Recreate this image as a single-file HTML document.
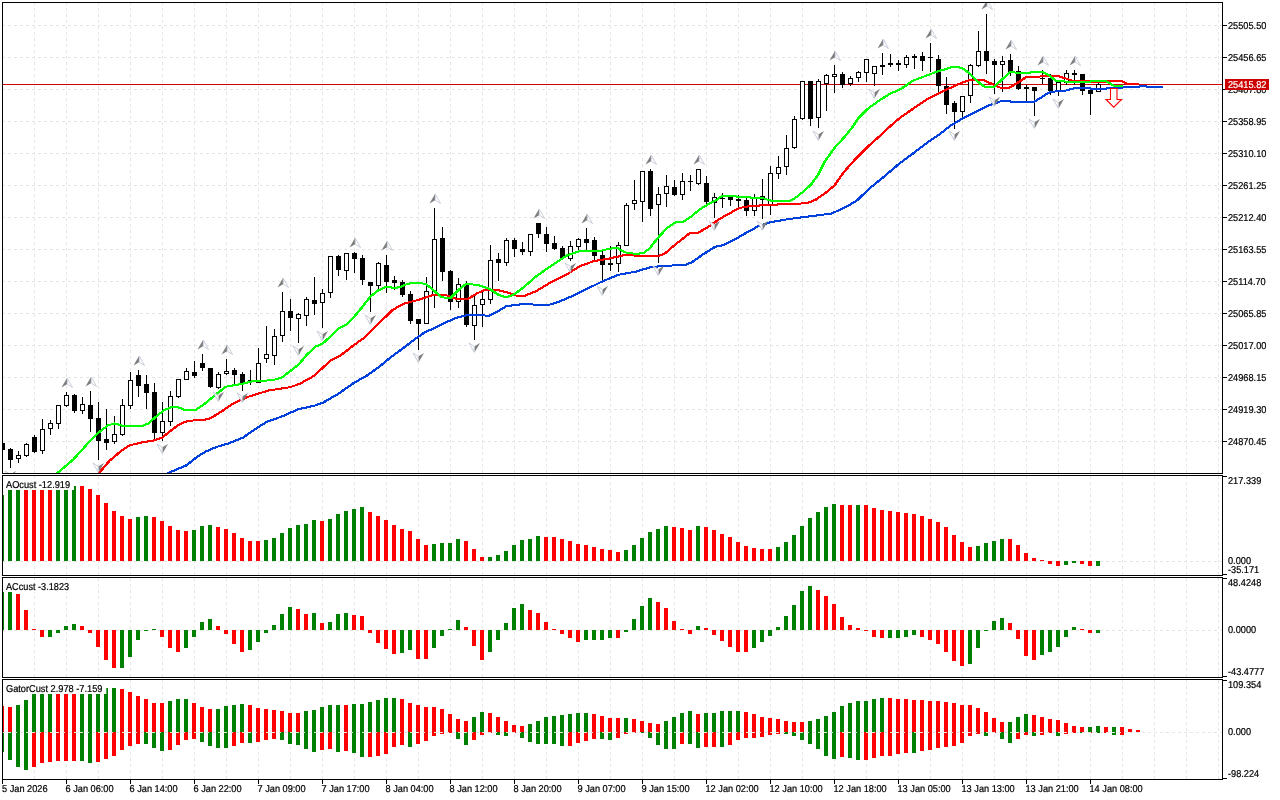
<!DOCTYPE html><html><head><meta charset="utf-8"><title>Chart</title><style>html,body{margin:0;padding:0;background:#fff;overflow:hidden}svg{display:block}text{font-family:"Liberation Sans", Arial, sans-serif;font-size:10px;fill:#000;stroke:#000;stroke-width:.22px;text-rendering:geometricPrecision}</style></head><body>
<svg width="1280" height="800" viewBox="0 0 1280 800">
<rect x="0" y="0" width="1280" height="800" fill="#fff"/>
<defs><clipPath id="cm"><rect x="3" y="3" width="1219" height="470"/></clipPath>
<clipPath id="c1"><rect x="3" y="476" width="1219" height="99"/></clipPath>
<clipPath id="c2"><rect x="3" y="578" width="1219" height="99"/></clipPath>
<clipPath id="c3"><rect x="3" y="680" width="1219" height="99"/></clipPath>
<g id="fu"><polygon points="0,0 -5.5,9.5 0,6.2" fill="#7d7d7d"/><polygon points="0.3,0.2 5.5,9.5 0.3,6.2" fill="#fff" stroke="#c3c9d6" stroke-width="0.9"/></g>
<g id="fd"><polygon points="0,0 5.5,-9.5 0,-6.2" fill="#7d7d7d"/><polygon points="-0.3,-0.2 -5.5,-9.5 -0.3,-6.2" fill="#fff" stroke="#c3c9d6" stroke-width="0.9"/></g>
</defs>
<g shape-rendering="crispEdges" stroke="#e5e5e5" stroke-width="1" stroke-dasharray="3 3" fill="none">
<line x1="34.5" y1="2" x2="34.5" y2="473"/>
<line x1="66.5" y1="2" x2="66.5" y2="473"/>
<line x1="98.5" y1="2" x2="98.5" y2="473"/>
<line x1="130.5" y1="2" x2="130.5" y2="473"/>
<line x1="162.5" y1="2" x2="162.5" y2="473"/>
<line x1="194.5" y1="2" x2="194.5" y2="473"/>
<line x1="226.5" y1="2" x2="226.5" y2="473"/>
<line x1="258.5" y1="2" x2="258.5" y2="473"/>
<line x1="290.5" y1="2" x2="290.5" y2="473"/>
<line x1="322.5" y1="2" x2="322.5" y2="473"/>
<line x1="354.5" y1="2" x2="354.5" y2="473"/>
<line x1="386.5" y1="2" x2="386.5" y2="473"/>
<line x1="418.5" y1="2" x2="418.5" y2="473"/>
<line x1="450.5" y1="2" x2="450.5" y2="473"/>
<line x1="482.5" y1="2" x2="482.5" y2="473"/>
<line x1="514.5" y1="2" x2="514.5" y2="473"/>
<line x1="546.5" y1="2" x2="546.5" y2="473"/>
<line x1="578.5" y1="2" x2="578.5" y2="473"/>
<line x1="610.5" y1="2" x2="610.5" y2="473"/>
<line x1="642.5" y1="2" x2="642.5" y2="473"/>
<line x1="674.5" y1="2" x2="674.5" y2="473"/>
<line x1="706.5" y1="2" x2="706.5" y2="473"/>
<line x1="738.5" y1="2" x2="738.5" y2="473"/>
<line x1="770.5" y1="2" x2="770.5" y2="473"/>
<line x1="802.5" y1="2" x2="802.5" y2="473"/>
<line x1="834.5" y1="2" x2="834.5" y2="473"/>
<line x1="866.5" y1="2" x2="866.5" y2="473"/>
<line x1="898.5" y1="2" x2="898.5" y2="473"/>
<line x1="930.5" y1="2" x2="930.5" y2="473"/>
<line x1="962.5" y1="2" x2="962.5" y2="473"/>
<line x1="994.5" y1="2" x2="994.5" y2="473"/>
<line x1="1026.5" y1="2" x2="1026.5" y2="473"/>
<line x1="1058.5" y1="2" x2="1058.5" y2="473"/>
<line x1="1090.5" y1="2" x2="1090.5" y2="473"/>
<line x1="1122.5" y1="2" x2="1122.5" y2="473"/>
<line x1="1154.5" y1="2" x2="1154.5" y2="473"/>
<line x1="1186.5" y1="2" x2="1186.5" y2="473"/>
<line x1="1218.5" y1="2" x2="1218.5" y2="473"/>
<line x1="34.5" y1="476" x2="34.5" y2="575"/>
<line x1="66.5" y1="476" x2="66.5" y2="575"/>
<line x1="98.5" y1="476" x2="98.5" y2="575"/>
<line x1="130.5" y1="476" x2="130.5" y2="575"/>
<line x1="162.5" y1="476" x2="162.5" y2="575"/>
<line x1="194.5" y1="476" x2="194.5" y2="575"/>
<line x1="226.5" y1="476" x2="226.5" y2="575"/>
<line x1="258.5" y1="476" x2="258.5" y2="575"/>
<line x1="290.5" y1="476" x2="290.5" y2="575"/>
<line x1="322.5" y1="476" x2="322.5" y2="575"/>
<line x1="354.5" y1="476" x2="354.5" y2="575"/>
<line x1="386.5" y1="476" x2="386.5" y2="575"/>
<line x1="418.5" y1="476" x2="418.5" y2="575"/>
<line x1="450.5" y1="476" x2="450.5" y2="575"/>
<line x1="482.5" y1="476" x2="482.5" y2="575"/>
<line x1="514.5" y1="476" x2="514.5" y2="575"/>
<line x1="546.5" y1="476" x2="546.5" y2="575"/>
<line x1="578.5" y1="476" x2="578.5" y2="575"/>
<line x1="610.5" y1="476" x2="610.5" y2="575"/>
<line x1="642.5" y1="476" x2="642.5" y2="575"/>
<line x1="674.5" y1="476" x2="674.5" y2="575"/>
<line x1="706.5" y1="476" x2="706.5" y2="575"/>
<line x1="738.5" y1="476" x2="738.5" y2="575"/>
<line x1="770.5" y1="476" x2="770.5" y2="575"/>
<line x1="802.5" y1="476" x2="802.5" y2="575"/>
<line x1="834.5" y1="476" x2="834.5" y2="575"/>
<line x1="866.5" y1="476" x2="866.5" y2="575"/>
<line x1="898.5" y1="476" x2="898.5" y2="575"/>
<line x1="930.5" y1="476" x2="930.5" y2="575"/>
<line x1="962.5" y1="476" x2="962.5" y2="575"/>
<line x1="994.5" y1="476" x2="994.5" y2="575"/>
<line x1="1026.5" y1="476" x2="1026.5" y2="575"/>
<line x1="1058.5" y1="476" x2="1058.5" y2="575"/>
<line x1="1090.5" y1="476" x2="1090.5" y2="575"/>
<line x1="1122.5" y1="476" x2="1122.5" y2="575"/>
<line x1="1154.5" y1="476" x2="1154.5" y2="575"/>
<line x1="1186.5" y1="476" x2="1186.5" y2="575"/>
<line x1="1218.5" y1="476" x2="1218.5" y2="575"/>
<line x1="34.5" y1="578" x2="34.5" y2="677"/>
<line x1="66.5" y1="578" x2="66.5" y2="677"/>
<line x1="98.5" y1="578" x2="98.5" y2="677"/>
<line x1="130.5" y1="578" x2="130.5" y2="677"/>
<line x1="162.5" y1="578" x2="162.5" y2="677"/>
<line x1="194.5" y1="578" x2="194.5" y2="677"/>
<line x1="226.5" y1="578" x2="226.5" y2="677"/>
<line x1="258.5" y1="578" x2="258.5" y2="677"/>
<line x1="290.5" y1="578" x2="290.5" y2="677"/>
<line x1="322.5" y1="578" x2="322.5" y2="677"/>
<line x1="354.5" y1="578" x2="354.5" y2="677"/>
<line x1="386.5" y1="578" x2="386.5" y2="677"/>
<line x1="418.5" y1="578" x2="418.5" y2="677"/>
<line x1="450.5" y1="578" x2="450.5" y2="677"/>
<line x1="482.5" y1="578" x2="482.5" y2="677"/>
<line x1="514.5" y1="578" x2="514.5" y2="677"/>
<line x1="546.5" y1="578" x2="546.5" y2="677"/>
<line x1="578.5" y1="578" x2="578.5" y2="677"/>
<line x1="610.5" y1="578" x2="610.5" y2="677"/>
<line x1="642.5" y1="578" x2="642.5" y2="677"/>
<line x1="674.5" y1="578" x2="674.5" y2="677"/>
<line x1="706.5" y1="578" x2="706.5" y2="677"/>
<line x1="738.5" y1="578" x2="738.5" y2="677"/>
<line x1="770.5" y1="578" x2="770.5" y2="677"/>
<line x1="802.5" y1="578" x2="802.5" y2="677"/>
<line x1="834.5" y1="578" x2="834.5" y2="677"/>
<line x1="866.5" y1="578" x2="866.5" y2="677"/>
<line x1="898.5" y1="578" x2="898.5" y2="677"/>
<line x1="930.5" y1="578" x2="930.5" y2="677"/>
<line x1="962.5" y1="578" x2="962.5" y2="677"/>
<line x1="994.5" y1="578" x2="994.5" y2="677"/>
<line x1="1026.5" y1="578" x2="1026.5" y2="677"/>
<line x1="1058.5" y1="578" x2="1058.5" y2="677"/>
<line x1="1090.5" y1="578" x2="1090.5" y2="677"/>
<line x1="1122.5" y1="578" x2="1122.5" y2="677"/>
<line x1="1154.5" y1="578" x2="1154.5" y2="677"/>
<line x1="1186.5" y1="578" x2="1186.5" y2="677"/>
<line x1="1218.5" y1="578" x2="1218.5" y2="677"/>
<line x1="34.5" y1="680" x2="34.5" y2="779"/>
<line x1="66.5" y1="680" x2="66.5" y2="779"/>
<line x1="98.5" y1="680" x2="98.5" y2="779"/>
<line x1="130.5" y1="680" x2="130.5" y2="779"/>
<line x1="162.5" y1="680" x2="162.5" y2="779"/>
<line x1="194.5" y1="680" x2="194.5" y2="779"/>
<line x1="226.5" y1="680" x2="226.5" y2="779"/>
<line x1="258.5" y1="680" x2="258.5" y2="779"/>
<line x1="290.5" y1="680" x2="290.5" y2="779"/>
<line x1="322.5" y1="680" x2="322.5" y2="779"/>
<line x1="354.5" y1="680" x2="354.5" y2="779"/>
<line x1="386.5" y1="680" x2="386.5" y2="779"/>
<line x1="418.5" y1="680" x2="418.5" y2="779"/>
<line x1="450.5" y1="680" x2="450.5" y2="779"/>
<line x1="482.5" y1="680" x2="482.5" y2="779"/>
<line x1="514.5" y1="680" x2="514.5" y2="779"/>
<line x1="546.5" y1="680" x2="546.5" y2="779"/>
<line x1="578.5" y1="680" x2="578.5" y2="779"/>
<line x1="610.5" y1="680" x2="610.5" y2="779"/>
<line x1="642.5" y1="680" x2="642.5" y2="779"/>
<line x1="674.5" y1="680" x2="674.5" y2="779"/>
<line x1="706.5" y1="680" x2="706.5" y2="779"/>
<line x1="738.5" y1="680" x2="738.5" y2="779"/>
<line x1="770.5" y1="680" x2="770.5" y2="779"/>
<line x1="802.5" y1="680" x2="802.5" y2="779"/>
<line x1="834.5" y1="680" x2="834.5" y2="779"/>
<line x1="866.5" y1="680" x2="866.5" y2="779"/>
<line x1="898.5" y1="680" x2="898.5" y2="779"/>
<line x1="930.5" y1="680" x2="930.5" y2="779"/>
<line x1="962.5" y1="680" x2="962.5" y2="779"/>
<line x1="994.5" y1="680" x2="994.5" y2="779"/>
<line x1="1026.5" y1="680" x2="1026.5" y2="779"/>
<line x1="1058.5" y1="680" x2="1058.5" y2="779"/>
<line x1="1090.5" y1="680" x2="1090.5" y2="779"/>
<line x1="1122.5" y1="680" x2="1122.5" y2="779"/>
<line x1="1154.5" y1="680" x2="1154.5" y2="779"/>
<line x1="1186.5" y1="680" x2="1186.5" y2="779"/>
<line x1="1218.5" y1="680" x2="1218.5" y2="779"/>
<line x1="2" y1="25.5" x2="1222" y2="25.5"/>
<line x1="2" y1="57.5" x2="1222" y2="57.5"/>
<line x1="2" y1="89.5" x2="1222" y2="89.5"/>
<line x1="2" y1="121.5" x2="1222" y2="121.5"/>
<line x1="2" y1="153.5" x2="1222" y2="153.5"/>
<line x1="2" y1="185.5" x2="1222" y2="185.5"/>
<line x1="2" y1="217.5" x2="1222" y2="217.5"/>
<line x1="2" y1="249.5" x2="1222" y2="249.5"/>
<line x1="2" y1="281.5" x2="1222" y2="281.5"/>
<line x1="2" y1="313.5" x2="1222" y2="313.5"/>
<line x1="2" y1="345.5" x2="1222" y2="345.5"/>
<line x1="2" y1="377.5" x2="1222" y2="377.5"/>
<line x1="2" y1="409.5" x2="1222" y2="409.5"/>
<line x1="2" y1="441.5" x2="1222" y2="441.5"/>
<line x1="2" y1="561.5" x2="1226" y2="561.5"/>
<line x1="2" y1="630.5" x2="1226" y2="630.5"/>
</g>
<rect x="3" y="84" width="1219" height="1" fill="#cc0000" shape-rendering="crispEdges"/>
<g shape-rendering="crispEdges" clip-path="url(#cm)">
<rect x="2" y="441" width="1" height="11" fill="#000"/>
<rect x="0" y="443" width="5" height="7" fill="#000"/>
<rect x="10" y="448" width="1" height="20" fill="#000"/>
<rect x="8" y="449" width="5" height="11" fill="#000"/>
<rect x="18" y="451" width="1" height="12" fill="#000"/>
<rect x="16.5" y="455.5" width="4" height="3" fill="#fff" stroke="#000" stroke-width="1"/>
<rect x="26" y="443" width="1" height="14" fill="#000"/>
<rect x="24.5" y="444.5" width="4" height="11" fill="#fff" stroke="#000" stroke-width="1"/>
<rect x="34" y="435" width="1" height="18" fill="#000"/>
<rect x="32" y="437" width="5" height="15" fill="#000"/>
<rect x="42" y="419" width="1" height="35" fill="#000"/>
<rect x="40.5" y="429.5" width="4" height="21" fill="#fff" stroke="#000" stroke-width="1"/>
<rect x="50" y="420" width="1" height="15" fill="#000"/>
<rect x="48.5" y="423.5" width="4" height="5" fill="#fff" stroke="#000" stroke-width="1"/>
<rect x="58" y="405" width="1" height="24" fill="#000"/>
<rect x="56.5" y="405.5" width="4" height="18" fill="#fff" stroke="#000" stroke-width="1"/>
<rect x="66" y="392" width="1" height="15" fill="#000"/>
<rect x="64.5" y="395.5" width="4" height="10" fill="#fff" stroke="#000" stroke-width="1"/>
<rect x="74" y="394" width="1" height="19" fill="#000"/>
<rect x="72" y="395" width="5" height="16" fill="#000"/>
<rect x="82" y="397" width="1" height="17" fill="#000"/>
<rect x="80.5" y="404.5" width="4" height="6" fill="#fff" stroke="#000" stroke-width="1"/>
<rect x="90" y="391" width="1" height="41" fill="#000"/>
<rect x="88" y="405" width="5" height="14" fill="#000"/>
<rect x="98" y="402" width="1" height="58" fill="#000"/>
<rect x="96" y="418" width="5" height="23" fill="#000"/>
<rect x="106" y="409" width="1" height="41" fill="#000"/>
<rect x="104" y="439" width="5" height="4" fill="#000"/>
<rect x="114" y="416" width="1" height="28" fill="#000"/>
<rect x="112.5" y="434.5" width="4" height="7" fill="#fff" stroke="#000" stroke-width="1"/>
<rect x="122" y="399" width="1" height="37" fill="#000"/>
<rect x="120.5" y="405.5" width="4" height="29" fill="#fff" stroke="#000" stroke-width="1"/>
<rect x="130" y="372" width="1" height="37" fill="#000"/>
<rect x="128.5" y="380.5" width="4" height="25" fill="#fff" stroke="#000" stroke-width="1"/>
<rect x="138" y="370" width="1" height="27" fill="#000"/>
<rect x="136" y="375" width="5" height="11" fill="#000"/>
<rect x="146" y="375" width="1" height="34" fill="#000"/>
<rect x="144" y="384" width="5" height="9" fill="#000"/>
<rect x="154" y="383" width="1" height="57" fill="#000"/>
<rect x="152" y="392" width="5" height="41" fill="#000"/>
<rect x="162" y="402" width="1" height="39" fill="#000"/>
<rect x="160.5" y="421.5" width="4" height="11" fill="#fff" stroke="#000" stroke-width="1"/>
<rect x="170" y="391" width="1" height="35" fill="#000"/>
<rect x="168.5" y="396.5" width="4" height="25" fill="#fff" stroke="#000" stroke-width="1"/>
<rect x="178" y="379" width="1" height="19" fill="#000"/>
<rect x="176.5" y="379.5" width="4" height="17" fill="#fff" stroke="#000" stroke-width="1"/>
<rect x="186" y="368" width="1" height="12" fill="#000"/>
<rect x="184.5" y="371.5" width="4" height="8" fill="#fff" stroke="#000" stroke-width="1"/>
<rect x="194" y="361" width="1" height="17" fill="#000"/>
<rect x="192" y="372" width="5" height="4" fill="#000"/>
<rect x="202" y="354" width="1" height="17" fill="#000"/>
<rect x="200" y="363" width="5" height="5" fill="#000"/>
<rect x="210" y="368" width="1" height="20" fill="#000"/>
<rect x="208" y="368" width="5" height="19" fill="#000"/>
<rect x="218" y="372" width="1" height="17" fill="#000"/>
<rect x="216.5" y="374.5" width="4" height="13" fill="#fff" stroke="#000" stroke-width="1"/>
<rect x="226" y="359" width="1" height="16" fill="#000"/>
<rect x="224.5" y="371.5" width="4" height="2" fill="#fff" stroke="#000" stroke-width="1"/>
<rect x="234" y="368" width="1" height="16" fill="#000"/>
<rect x="232" y="370" width="5" height="5" fill="#000"/>
<rect x="242" y="372" width="1" height="19" fill="#000"/>
<rect x="240" y="374" width="5" height="10" fill="#000"/>
<rect x="250" y="370" width="1" height="15" fill="#000"/>
<rect x="248" y="380" width="5" height="2" fill="#000"/>
<rect x="258" y="348" width="1" height="35" fill="#000"/>
<rect x="256.5" y="363.5" width="4" height="19" fill="#fff" stroke="#000" stroke-width="1"/>
<rect x="266" y="326" width="1" height="37" fill="#000"/>
<rect x="264.5" y="354.5" width="4" height="4" fill="#fff" stroke="#000" stroke-width="1"/>
<rect x="274" y="329" width="1" height="36" fill="#000"/>
<rect x="272.5" y="336.5" width="4" height="19" fill="#fff" stroke="#000" stroke-width="1"/>
<rect x="282" y="292" width="1" height="50" fill="#000"/>
<rect x="280.5" y="311.5" width="4" height="24" fill="#fff" stroke="#000" stroke-width="1"/>
<rect x="290" y="299" width="1" height="32" fill="#000"/>
<rect x="288" y="311" width="5" height="7" fill="#000"/>
<rect x="298" y="313" width="1" height="30" fill="#000"/>
<rect x="296.5" y="314.5" width="4" height="4" fill="#fff" stroke="#000" stroke-width="1"/>
<rect x="306" y="297" width="1" height="29" fill="#000"/>
<rect x="304.5" y="299.5" width="4" height="16" fill="#fff" stroke="#000" stroke-width="1"/>
<rect x="314" y="277" width="1" height="38" fill="#000"/>
<rect x="312" y="300" width="5" height="4" fill="#000"/>
<rect x="322" y="289" width="1" height="39" fill="#000"/>
<rect x="320.5" y="293.5" width="4" height="9" fill="#fff" stroke="#000" stroke-width="1"/>
<rect x="330" y="256" width="1" height="42" fill="#000"/>
<rect x="328.5" y="256.5" width="4" height="36" fill="#fff" stroke="#000" stroke-width="1"/>
<rect x="338" y="255" width="1" height="21" fill="#000"/>
<rect x="336" y="256" width="5" height="14" fill="#000"/>
<rect x="346" y="253" width="1" height="27" fill="#000"/>
<rect x="344.5" y="253.5" width="4" height="17" fill="#fff" stroke="#000" stroke-width="1"/>
<rect x="354" y="252" width="1" height="21" fill="#000"/>
<rect x="352" y="253" width="5" height="6" fill="#000"/>
<rect x="362" y="255" width="1" height="30" fill="#000"/>
<rect x="360" y="258" width="5" height="22" fill="#000"/>
<rect x="370" y="282" width="1" height="30" fill="#000"/>
<rect x="368" y="282" width="5" height="4" fill="#000"/>
<rect x="378" y="262" width="1" height="27" fill="#000"/>
<rect x="376.5" y="263.5" width="4" height="22" fill="#fff" stroke="#000" stroke-width="1"/>
<rect x="386" y="255" width="1" height="38" fill="#000"/>
<rect x="384" y="265" width="5" height="17" fill="#000"/>
<rect x="394" y="276" width="1" height="14" fill="#000"/>
<rect x="392" y="280" width="5" height="3" fill="#000"/>
<rect x="402" y="280" width="1" height="17" fill="#000"/>
<rect x="400" y="282" width="5" height="13" fill="#000"/>
<rect x="410" y="291" width="1" height="33" fill="#000"/>
<rect x="408" y="294" width="5" height="27" fill="#000"/>
<rect x="418" y="319" width="1" height="31" fill="#000"/>
<rect x="416" y="319" width="5" height="5" fill="#000"/>
<rect x="426" y="277" width="1" height="47" fill="#000"/>
<rect x="424.5" y="291.5" width="4" height="32" fill="#fff" stroke="#000" stroke-width="1"/>
<rect x="434" y="208" width="1" height="100" fill="#000"/>
<rect x="432.5" y="239.5" width="4" height="55" fill="#fff" stroke="#000" stroke-width="1"/>
<rect x="442" y="227" width="1" height="54" fill="#000"/>
<rect x="440" y="238" width="5" height="34" fill="#000"/>
<rect x="450" y="270" width="1" height="40" fill="#000"/>
<rect x="448" y="271" width="5" height="31" fill="#000"/>
<rect x="458" y="278" width="1" height="30" fill="#000"/>
<rect x="456.5" y="284.5" width="4" height="17" fill="#fff" stroke="#000" stroke-width="1"/>
<rect x="466" y="281" width="1" height="46" fill="#000"/>
<rect x="464" y="284" width="5" height="41" fill="#000"/>
<rect x="474" y="296" width="1" height="44" fill="#000"/>
<rect x="472.5" y="305.5" width="4" height="20" fill="#fff" stroke="#000" stroke-width="1"/>
<rect x="482" y="290" width="1" height="37" fill="#000"/>
<rect x="480.5" y="299.5" width="4" height="5" fill="#fff" stroke="#000" stroke-width="1"/>
<rect x="490" y="245" width="1" height="59" fill="#000"/>
<rect x="488.5" y="260.5" width="4" height="39" fill="#fff" stroke="#000" stroke-width="1"/>
<rect x="498" y="253" width="1" height="28" fill="#000"/>
<rect x="496" y="259" width="5" height="4" fill="#000"/>
<rect x="506" y="238" width="1" height="28" fill="#000"/>
<rect x="504.5" y="240.5" width="4" height="22" fill="#fff" stroke="#000" stroke-width="1"/>
<rect x="514" y="238" width="1" height="19" fill="#000"/>
<rect x="512" y="240" width="5" height="9" fill="#000"/>
<rect x="522" y="242" width="1" height="13" fill="#000"/>
<rect x="520" y="249" width="5" height="3" fill="#000"/>
<rect x="530" y="234" width="1" height="22" fill="#000"/>
<rect x="528.5" y="234.5" width="4" height="17" fill="#fff" stroke="#000" stroke-width="1"/>
<rect x="538" y="223" width="1" height="15" fill="#000"/>
<rect x="536" y="223" width="5" height="11" fill="#000"/>
<rect x="546" y="227" width="1" height="25" fill="#000"/>
<rect x="544" y="234" width="5" height="10" fill="#000"/>
<rect x="554" y="236" width="1" height="14" fill="#000"/>
<rect x="552" y="243" width="5" height="6" fill="#000"/>
<rect x="562" y="246" width="1" height="13" fill="#000"/>
<rect x="560" y="248" width="5" height="10" fill="#000"/>
<rect x="570" y="241" width="1" height="20" fill="#000"/>
<rect x="568.5" y="246.5" width="4" height="12" fill="#fff" stroke="#000" stroke-width="1"/>
<rect x="578" y="238" width="1" height="13" fill="#000"/>
<rect x="576.5" y="239.5" width="4" height="7" fill="#fff" stroke="#000" stroke-width="1"/>
<rect x="586" y="228" width="1" height="22" fill="#000"/>
<rect x="584" y="239" width="5" height="4" fill="#000"/>
<rect x="594" y="237" width="1" height="23" fill="#000"/>
<rect x="592" y="240" width="5" height="16" fill="#000"/>
<rect x="602" y="251" width="1" height="32" fill="#000"/>
<rect x="600" y="255" width="5" height="10" fill="#000"/>
<rect x="610" y="246" width="1" height="25" fill="#000"/>
<rect x="608" y="263" width="5" height="2" fill="#000"/>
<rect x="618" y="242" width="1" height="30" fill="#000"/>
<rect x="616.5" y="245.5" width="4" height="18" fill="#fff" stroke="#000" stroke-width="1"/>
<rect x="626" y="203" width="1" height="43" fill="#000"/>
<rect x="624.5" y="205.5" width="4" height="40" fill="#fff" stroke="#000" stroke-width="1"/>
<rect x="634" y="180" width="1" height="30" fill="#000"/>
<rect x="632.5" y="200.5" width="4" height="3" fill="#fff" stroke="#000" stroke-width="1"/>
<rect x="642" y="171" width="1" height="51" fill="#000"/>
<rect x="640.5" y="171.5" width="4" height="30" fill="#fff" stroke="#000" stroke-width="1"/>
<rect x="650" y="169" width="1" height="47" fill="#000"/>
<rect x="648" y="171" width="5" height="38" fill="#000"/>
<rect x="658" y="187" width="1" height="76" fill="#000"/>
<rect x="656.5" y="194.5" width="4" height="10" fill="#fff" stroke="#000" stroke-width="1"/>
<rect x="666" y="175" width="1" height="32" fill="#000"/>
<rect x="664.5" y="186.5" width="4" height="7" fill="#fff" stroke="#000" stroke-width="1"/>
<rect x="674" y="180" width="1" height="16" fill="#000"/>
<rect x="672" y="187" width="5" height="8" fill="#000"/>
<rect x="682" y="173" width="1" height="27" fill="#000"/>
<rect x="680.5" y="181.5" width="4" height="13" fill="#fff" stroke="#000" stroke-width="1"/>
<rect x="690" y="175" width="1" height="16" fill="#000"/>
<rect x="688" y="181" width="5" height="1" fill="#000"/>
<rect x="698" y="169" width="1" height="16" fill="#000"/>
<rect x="696.5" y="169.5" width="4" height="14" fill="#fff" stroke="#000" stroke-width="1"/>
<rect x="706" y="176" width="1" height="28" fill="#000"/>
<rect x="704" y="183" width="5" height="19" fill="#000"/>
<rect x="714" y="193" width="1" height="25" fill="#000"/>
<rect x="712.5" y="197.5" width="4" height="5" fill="#fff" stroke="#000" stroke-width="1"/>
<rect x="722" y="193" width="1" height="15" fill="#000"/>
<rect x="720" y="198" width="5" height="1" fill="#000"/>
<rect x="730" y="195" width="1" height="11" fill="#000"/>
<rect x="728" y="197" width="5" height="3" fill="#000"/>
<rect x="738" y="195" width="1" height="13" fill="#000"/>
<rect x="736" y="199" width="5" height="2" fill="#000"/>
<rect x="746" y="198" width="1" height="18" fill="#000"/>
<rect x="744" y="200" width="5" height="11" fill="#000"/>
<rect x="754" y="194" width="1" height="22" fill="#000"/>
<rect x="752.5" y="198.5" width="4" height="12" fill="#fff" stroke="#000" stroke-width="1"/>
<rect x="762" y="179" width="1" height="40" fill="#000"/>
<rect x="760" y="196" width="5" height="4" fill="#000"/>
<rect x="770" y="166" width="1" height="49" fill="#000"/>
<rect x="768.5" y="173.5" width="4" height="31" fill="#fff" stroke="#000" stroke-width="1"/>
<rect x="778" y="156" width="1" height="23" fill="#000"/>
<rect x="776.5" y="167.5" width="4" height="6" fill="#fff" stroke="#000" stroke-width="1"/>
<rect x="786" y="135" width="1" height="40" fill="#000"/>
<rect x="784.5" y="148.5" width="4" height="18" fill="#fff" stroke="#000" stroke-width="1"/>
<rect x="794" y="116" width="1" height="33" fill="#000"/>
<rect x="792.5" y="119.5" width="4" height="28" fill="#fff" stroke="#000" stroke-width="1"/>
<rect x="802" y="81" width="1" height="39" fill="#000"/>
<rect x="800.5" y="81.5" width="4" height="37" fill="#fff" stroke="#000" stroke-width="1"/>
<rect x="810" y="81" width="1" height="45" fill="#000"/>
<rect x="808" y="81" width="5" height="38" fill="#000"/>
<rect x="818" y="79" width="1" height="49" fill="#000"/>
<rect x="816.5" y="81.5" width="4" height="36" fill="#fff" stroke="#000" stroke-width="1"/>
<rect x="826" y="74" width="1" height="37" fill="#000"/>
<rect x="824.5" y="75.5" width="4" height="8" fill="#fff" stroke="#000" stroke-width="1"/>
<rect x="834" y="65" width="1" height="28" fill="#000"/>
<rect x="832.5" y="74.5" width="4" height="2" fill="#fff" stroke="#000" stroke-width="1"/>
<rect x="842" y="72" width="1" height="16" fill="#000"/>
<rect x="840" y="74" width="5" height="11" fill="#000"/>
<rect x="850" y="76" width="1" height="10" fill="#000"/>
<rect x="848.5" y="78.5" width="4" height="5" fill="#fff" stroke="#000" stroke-width="1"/>
<rect x="858" y="71" width="1" height="11" fill="#000"/>
<rect x="856.5" y="72.5" width="4" height="5" fill="#fff" stroke="#000" stroke-width="1"/>
<rect x="866" y="59" width="1" height="23" fill="#000"/>
<rect x="864.5" y="59.5" width="4" height="13" fill="#fff" stroke="#000" stroke-width="1"/>
<rect x="874" y="66" width="1" height="20" fill="#000"/>
<rect x="872.5" y="66.5" width="4" height="7" fill="#fff" stroke="#000" stroke-width="1"/>
<rect x="882" y="53" width="1" height="22" fill="#000"/>
<rect x="880" y="65" width="5" height="2" fill="#000"/>
<rect x="890" y="54" width="1" height="13" fill="#000"/>
<rect x="888" y="63" width="5" height="2" fill="#000"/>
<rect x="898" y="60" width="1" height="11" fill="#000"/>
<rect x="896" y="63" width="5" height="2" fill="#000"/>
<rect x="906" y="55" width="1" height="13" fill="#000"/>
<rect x="904.5" y="57.5" width="4" height="7" fill="#fff" stroke="#000" stroke-width="1"/>
<rect x="914" y="54" width="1" height="15" fill="#000"/>
<rect x="912" y="56" width="5" height="2" fill="#000"/>
<rect x="922" y="52" width="1" height="19" fill="#000"/>
<rect x="920" y="56" width="5" height="5" fill="#000"/>
<rect x="930" y="43" width="1" height="29" fill="#000"/>
<rect x="928" y="57" width="5" height="1" fill="#000"/>
<rect x="938" y="55" width="1" height="38" fill="#000"/>
<rect x="936" y="59" width="5" height="27" fill="#000"/>
<rect x="946" y="77" width="1" height="37" fill="#000"/>
<rect x="944" y="86" width="5" height="19" fill="#000"/>
<rect x="954" y="101" width="1" height="28" fill="#000"/>
<rect x="952" y="103" width="5" height="9" fill="#000"/>
<rect x="962" y="96" width="1" height="21" fill="#000"/>
<rect x="960.5" y="96.5" width="4" height="15" fill="#fff" stroke="#000" stroke-width="1"/>
<rect x="970" y="64" width="1" height="39" fill="#000"/>
<rect x="968.5" y="65.5" width="4" height="30" fill="#fff" stroke="#000" stroke-width="1"/>
<rect x="978" y="31" width="1" height="36" fill="#000"/>
<rect x="976.5" y="51.5" width="4" height="14" fill="#fff" stroke="#000" stroke-width="1"/>
<rect x="986" y="14" width="1" height="60" fill="#000"/>
<rect x="984" y="51" width="5" height="10" fill="#000"/>
<rect x="994" y="59" width="1" height="35" fill="#000"/>
<rect x="992" y="61" width="5" height="4" fill="#000"/>
<rect x="1002" y="56" width="1" height="36" fill="#000"/>
<rect x="1000.5" y="61.5" width="4" height="3" fill="#fff" stroke="#000" stroke-width="1"/>
<rect x="1010" y="54" width="1" height="22" fill="#000"/>
<rect x="1008" y="60" width="5" height="12" fill="#000"/>
<rect x="1018" y="66" width="1" height="24" fill="#000"/>
<rect x="1016" y="71" width="5" height="18" fill="#000"/>
<rect x="1026" y="85" width="1" height="16" fill="#000"/>
<rect x="1024" y="87" width="5" height="2" fill="#000"/>
<rect x="1034" y="87" width="1" height="29" fill="#000"/>
<rect x="1032" y="87" width="5" height="4" fill="#000"/>
<rect x="1042" y="70" width="1" height="14" fill="#000"/>
<rect x="1040" y="78" width="5" height="1" fill="#000"/>
<rect x="1050" y="74" width="1" height="21" fill="#000"/>
<rect x="1048" y="78" width="5" height="13" fill="#000"/>
<rect x="1058" y="82" width="1" height="14" fill="#000"/>
<rect x="1056.5" y="82.5" width="4" height="8" fill="#fff" stroke="#000" stroke-width="1"/>
<rect x="1066" y="70" width="1" height="15" fill="#000"/>
<rect x="1064.5" y="73.5" width="4" height="9" fill="#fff" stroke="#000" stroke-width="1"/>
<rect x="1074" y="70" width="1" height="15" fill="#000"/>
<rect x="1072" y="73" width="5" height="2" fill="#000"/>
<rect x="1082" y="74" width="1" height="21" fill="#000"/>
<rect x="1080" y="74" width="5" height="17" fill="#000"/>
<rect x="1090" y="90" width="1" height="25" fill="#000"/>
<rect x="1088" y="90" width="5" height="4" fill="#000"/>
<rect x="1098" y="83" width="1" height="9" fill="#000"/>
<rect x="1096.5" y="84.5" width="4" height="7" fill="#fff" stroke="#000" stroke-width="1"/>
</g>
<g clip-path="url(#cm)" shape-rendering="crispEdges">
<polyline points="159.75,478 168.5,472.7 176.35,469.5 185.65,465.6 189.75,462.5 197.55,456.25 205.35,451.6 216.35,446.9 227.25,443.75 242.85,437.5 255.35,428.9 266.35,421.9 281.95,416.4 297.55,409.4 314.75,405.5 322.55,402.8 338.15,393.75 353.75,382.8 366.35,375.8 379.75,366.25 389.15,358.4 398.5,351.4 407.85,344.4 417.25,337.3 425.05,331.9 434.45,328 445.35,322.5 456.35,317.8 467.25,315 476.65,315 489.15,315.8 498.5,310.8 506.35,306.1 515.75,305 525.05,303.75 536,304.8 550.05,304.5 559.45,301.4 569.75,297 585.35,289.7 601,281.9 618.15,274.8 635.35,271.7 651,267 666.65,265.8 685.35,264.7 691.65,262.3 702.55,254.5 715.05,246.7 722.85,245.2 733.75,240 744.75,233.5 757.25,226.6 770.05,222.2 788.75,219 812.25,216 831,213.6 843.5,208.1 856,201.1 870.05,187.8 882.55,177.7 898.15,164.4 913.75,152.7 929.45,140.9 939.75,134 949.75,126 959.75,120 969.75,115 979.75,110 989.75,105 999.75,101.5 1009.75,101 1010.75,101.8 1033.75,101.8 1041.75,97 1049.75,92 1057.75,91.2 1065.75,90.5 1074.75,88.2 1089.75,88.2 1090.75,89 1105.75,89 1107.75,88 1121.75,88 1122.75,87 1138.75,87 1139.75,86 1145.75,86 1146.75,87 1162.75,87" fill="none" stroke="#0040dc" stroke-width="2" stroke-linejoin="round" stroke-linecap="butt"/>
<polyline points="160.25,478 169,472.7 176.85,469.5 186.15,465.6 190.25,462.5 198.05,456.25 205.85,451.6 216.85,446.9 227.75,443.75 243.35,437.5 255.85,428.9 266.85,421.9 282.45,416.4 298.05,409.4 315.25,405.5 323.05,402.8 338.65,393.75 354.25,382.8 366.85,375.8 380.25,366.25 389.65,358.4 399,351.4 408.35,344.4 417.75,337.3 425.55,331.9 434.95,328 445.85,322.5 456.85,317.8 467.75,315 477.15,315 489.65,315.8 499,310.8 506.85,306.1 516.25,305 525.55,303.75 536.5,304.8 550.55,304.5 559.95,301.4 570.25,297 585.85,289.7 601.5,281.9 618.65,274.8 635.85,271.7 651.5,267 667.15,265.8 685.85,264.7 692.15,262.3 703.05,254.5 715.55,246.7 723.35,245.2 734.25,240 745.25,233.5 757.75,226.6 770.55,222.2 789.25,219 812.75,216 831.5,213.6 844,208.1 856.5,201.1 870.55,187.8 883.05,177.7 898.65,164.4 914.25,152.7 929.95,140.9 940.25,134 950.25,126 960.25,120 970.25,115 980.25,110 990.25,105 1000.25,101.5 1010.25,101 1011.25,101.8 1034.25,101.8 1042.25,97 1050.25,92 1058.25,91.2 1066.25,90.5 1075.25,88.2 1090.25,88.2 1091.25,89 1106.25,89 1108.25,88 1122.25,88 1123.25,87 1139.25,87 1140.25,86 1146.25,86 1147.25,87 1163.25,87" fill="none" stroke="#0040dc" stroke-width="2" stroke-linejoin="round" stroke-linecap="butt"/>
<polyline points="91.75,481 98.95,472.7 109.15,460.9 120.05,451.6 129.45,445.3 140.35,442.7 154.45,440.3 162.25,437.5 171.65,429.7 179.45,424.2 187.25,421.1 199.75,419.8 205.35,419.5 210.05,418.4 221,411.7 233.5,403.1 247.55,396.9 267.85,390.6 289.75,387.2 299.15,384 313.15,376.25 322.55,367.7 330.35,360.6 339.75,355.9 353.75,345 364.75,337.2 377.25,324.7 392.25,310 403.15,303.8 418.75,299.7 432.85,295 445.35,295 457.85,299.4 467.25,299.4 476.65,293.4 486,289.5 496.95,289.8 507.85,292.7 515.75,295.5 525.05,295.5 536,291.1 551.65,281.7 567.25,273.9 579.15,266.4 593.15,261.25 608.75,258.6 626,254.7 638.5,255.9 658.75,255.9 665.05,253.1 676,243.75 690.05,232.8 697.85,232.8 707.25,227.3 719.75,218.75 732.25,211.7 738.5,208.1 751,205.9 770.05,205 788.75,203.75 806,203.4 815.35,199.8 824.75,193.3 834.15,185.5 843.5,172.2 856,158.1 870.05,144.4 878.5,136.9 889.45,126.7 900.35,117.3 912.85,108.75 925.35,100.2 937.85,93.9 949.75,88 959.75,83.5 970.75,79.5 981.75,79.5 989.75,83 999.75,87.5 1009.75,87.5 1017.75,82.5 1026.75,76.5 1039.75,76.5 1049.75,75.5 1057.75,76 1065.75,78.5 1071.75,80.5 1089.75,81 1091.75,82 1105.75,82 1107.75,81 1121.75,81 1126.75,84 1138.75,84" fill="none" stroke="#ff0000" stroke-width="2" stroke-linejoin="round" stroke-linecap="butt"/>
<polyline points="92.25,481 99.45,472.7 109.65,460.9 120.55,451.6 129.95,445.3 140.85,442.7 154.95,440.3 162.75,437.5 172.15,429.7 179.95,424.2 187.75,421.1 200.25,419.8 205.85,419.5 210.55,418.4 221.5,411.7 234,403.1 248.05,396.9 268.35,390.6 290.25,387.2 299.65,384 313.65,376.25 323.05,367.7 330.85,360.6 340.25,355.9 354.25,345 365.25,337.2 377.75,324.7 392.75,310 403.65,303.8 419.25,299.7 433.35,295 445.85,295 458.35,299.4 467.75,299.4 477.15,293.4 486.5,289.5 497.45,289.8 508.35,292.7 516.25,295.5 525.55,295.5 536.5,291.1 552.15,281.7 567.75,273.9 579.65,266.4 593.65,261.25 609.25,258.6 626.5,254.7 639,255.9 659.25,255.9 665.55,253.1 676.5,243.75 690.55,232.8 698.35,232.8 707.75,227.3 720.25,218.75 732.75,211.7 739,208.1 751.5,205.9 770.55,205 789.25,203.75 806.5,203.4 815.85,199.8 825.25,193.3 834.65,185.5 844,172.2 856.5,158.1 870.55,144.4 879,136.9 889.95,126.7 900.85,117.3 913.35,108.75 925.85,100.2 938.35,93.9 950.25,88 960.25,83.5 971.25,79.5 982.25,79.5 990.25,83 1000.25,87.5 1010.25,87.5 1018.25,82.5 1027.25,76.5 1040.25,76.5 1050.25,75.5 1058.25,76 1066.25,78.5 1072.25,80.5 1090.25,81 1092.25,82 1106.25,82 1108.25,81 1122.25,81 1127.25,84 1139.25,84" fill="none" stroke="#ff0000" stroke-width="2" stroke-linejoin="round" stroke-linecap="butt"/>
<polyline points="49.75,480 57.55,472.7 73.15,459.4 87.25,443.75 98.15,432.8 107.55,425.5 114.25,423.4 123.15,426.1 132.55,426.1 141.95,426.1 148.15,423.4 156,416.4 163.75,410.2 171.65,407 176.35,406.7 184.15,409.7 189.75,410.2 196,409.7 205.35,403.1 215.55,394.5 225.65,386.7 241.35,384 252.25,381.25 260.05,381.25 274.15,379.7 281.95,377.3 291.35,370 299.15,363.75 306.15,355.2 314.75,346.9 322.55,343.4 330.35,336.4 338.15,328.6 346,324.7 353.75,316.9 361.65,307.5 369.75,297 377.75,290.5 385.75,286.8 394.75,288 399.75,287 405.75,284.5 411.75,282.8 418.25,282.8 425.75,284 431.75,289 441.45,297.3 450.05,298.1 457.85,290.3 465.75,284 476.65,284.8 489.15,288.75 498.5,295 506.35,297.3 514.15,294.2 523.5,287.2 536,276.25 551.65,265.3 567.25,255.2 577.55,251.6 579.75,251 589.75,251 599.75,251 607.75,249 616.65,247.7 624.45,252.3 635.35,253.9 643.15,253.1 649.45,248.4 657.25,238.3 666.65,228.1 676,221.9 683.05,221.9 690.05,217.2 699.45,209.4 707.25,204.7 715.05,200.8 722.05,195.8 732.25,195.8 738.5,196.9 754.15,197.7 762.25,198 771.65,201.1 788.75,201.1 795.05,198 802.85,191.7 810.65,184.7 818.5,173.75 824.75,161.25 834.15,148 843.5,137.8 851.95,127.5 858.15,118.1 867.55,108.75 878.5,100.9 889.45,93.9 900.35,89.2 912.85,80.6 925.35,75.9 937.85,71.25 945.75,69 951.75,67 957.75,67 962.75,68.5 968.75,73 974.75,79 979.75,83.5 984.75,86.8 993.75,86.8 999.75,81.5 1009.75,72 1019.75,73 1029.75,73 1031.75,72 1041.75,72 1049.75,76 1055.75,81 1064.75,81.5 1074.75,82 1089.75,82 1091.75,81 1105.75,81 1114.25,86 1122.75,86" fill="none" stroke="#00ff00" stroke-width="2" stroke-linejoin="round" stroke-linecap="butt"/>
<polyline points="50.25,480 58.05,472.7 73.65,459.4 87.75,443.75 98.65,432.8 108.05,425.5 114.75,423.4 123.65,426.1 133.05,426.1 142.45,426.1 148.65,423.4 156.5,416.4 164.25,410.2 172.15,407 176.85,406.7 184.65,409.7 190.25,410.2 196.5,409.7 205.85,403.1 216.05,394.5 226.15,386.7 241.85,384 252.75,381.25 260.55,381.25 274.65,379.7 282.45,377.3 291.85,370 299.65,363.75 306.65,355.2 315.25,346.9 323.05,343.4 330.85,336.4 338.65,328.6 346.5,324.7 354.25,316.9 362.15,307.5 370.25,297 378.25,290.5 386.25,286.8 395.25,288 400.25,287 406.25,284.5 412.25,282.8 418.75,282.8 426.25,284 432.25,289 441.95,297.3 450.55,298.1 458.35,290.3 466.25,284 477.15,284.8 489.65,288.75 499,295 506.85,297.3 514.65,294.2 524,287.2 536.5,276.25 552.15,265.3 567.75,255.2 578.05,251.6 580.25,251 590.25,251 600.25,251 608.25,249 617.15,247.7 624.95,252.3 635.85,253.9 643.65,253.1 649.95,248.4 657.75,238.3 667.15,228.1 676.5,221.9 683.55,221.9 690.55,217.2 699.95,209.4 707.75,204.7 715.55,200.8 722.55,195.8 732.75,195.8 739,196.9 754.65,197.7 762.75,198 772.15,201.1 789.25,201.1 795.55,198 803.35,191.7 811.15,184.7 819,173.75 825.25,161.25 834.65,148 844,137.8 852.45,127.5 858.65,118.1 868.05,108.75 879,100.9 889.95,93.9 900.85,89.2 913.35,80.6 925.85,75.9 938.35,71.25 946.25,69 952.25,67 958.25,67 963.25,68.5 969.25,73 975.25,79 980.25,83.5 985.25,86.8 994.25,86.8 1000.25,81.5 1010.25,72 1020.25,73 1030.25,73 1032.25,72 1042.25,72 1050.25,76 1056.25,81 1065.25,81.5 1075.25,82 1090.25,82 1092.25,81 1106.25,81 1114.75,86 1123.25,86" fill="none" stroke="#00ff00" stroke-width="2" stroke-linejoin="round" stroke-linecap="butt"/>
</g>
<g clip-path="url(#cm)">
<use href="#fu" x="67" y="378"/>
<use href="#fu" x="91" y="377"/>
<use href="#fu" x="139" y="356"/>
<use href="#fu" x="203" y="340"/>
<use href="#fu" x="227" y="345"/>
<use href="#fu" x="283" y="278"/>
<use href="#fu" x="355" y="238"/>
<use href="#fu" x="387" y="241"/>
<use href="#fu" x="435" y="194"/>
<use href="#fu" x="539" y="209"/>
<use href="#fu" x="587" y="214"/>
<use href="#fu" x="651" y="155"/>
<use href="#fu" x="699" y="155"/>
<use href="#fu" x="835" y="51"/>
<use href="#fu" x="883" y="39"/>
<use href="#fu" x="931" y="29"/>
<use href="#fu" x="987" y="0"/>
<use href="#fu" x="1011" y="40"/>
<use href="#fu" x="1043" y="56"/>
<use href="#fu" x="1075" y="56"/>
<use href="#fd" x="10.5" y="480.5"/>
<use href="#fd" x="98.5" y="472.5"/>
<use href="#fd" x="162.5" y="453.5"/>
<use href="#fd" x="218.5" y="401.5"/>
<use href="#fd" x="242.5" y="402.5"/>
<use href="#fd" x="298.5" y="355.5"/>
<use href="#fd" x="322.5" y="340.5"/>
<use href="#fd" x="370.5" y="324.5"/>
<use href="#fd" x="418.5" y="362.5"/>
<use href="#fd" x="474.5" y="352.5"/>
<use href="#fd" x="570.5" y="272.5"/>
<use href="#fd" x="602.5" y="295.5"/>
<use href="#fd" x="658.5" y="275.5"/>
<use href="#fd" x="714.5" y="230.5"/>
<use href="#fd" x="762.5" y="230.5"/>
<use href="#fd" x="818.5" y="140.5"/>
<use href="#fd" x="874.5" y="98.5"/>
<use href="#fd" x="954.5" y="140.5"/>
<use href="#fd" x="994.5" y="106.5"/>
<use href="#fd" x="1034.5" y="128.5"/>
<use href="#fd" x="1058.5" y="108.5"/>
</g>
<path d="M1110.5,88.5 h6.5 v11 h4.5 l-7.75,7.75 l-7.75,-7.75 h4.5 z" fill="#fff" stroke="#ff0000" stroke-width="1.1" stroke-linejoin="miter"/>
<g shape-rendering="crispEdges">
<g clip-path="url(#c1)">
<rect x="0" y="495" width="4" height="66" fill="#008000"/>
<rect x="8" y="490" width="4" height="71" fill="#008000"/>
<rect x="16" y="490" width="4" height="71" fill="#008000"/>
<rect x="24" y="490" width="4" height="71" fill="#ff0000"/>
<rect x="32" y="490" width="4" height="71" fill="#ff0000"/>
<rect x="40" y="490" width="4" height="71" fill="#ff0000"/>
<rect x="48" y="490" width="4" height="71" fill="#ff0000"/>
<rect x="56" y="490" width="4" height="71" fill="#008000"/>
<rect x="64" y="490" width="4" height="71" fill="#008000"/>
<rect x="72" y="486" width="4" height="75" fill="#008000"/>
<rect x="80" y="486" width="4" height="75" fill="#ff0000"/>
<rect x="88" y="489" width="4" height="72" fill="#ff0000"/>
<rect x="96" y="495" width="4" height="66" fill="#ff0000"/>
<rect x="104" y="503" width="4" height="58" fill="#ff0000"/>
<rect x="112" y="511" width="4" height="50" fill="#ff0000"/>
<rect x="120" y="516" width="4" height="45" fill="#ff0000"/>
<rect x="128" y="519" width="4" height="42" fill="#ff0000"/>
<rect x="136" y="517" width="4" height="44" fill="#008000"/>
<rect x="144" y="516" width="4" height="45" fill="#008000"/>
<rect x="152" y="517" width="4" height="44" fill="#ff0000"/>
<rect x="160" y="521" width="4" height="40" fill="#ff0000"/>
<rect x="168" y="526" width="4" height="35" fill="#ff0000"/>
<rect x="176" y="530" width="4" height="31" fill="#ff0000"/>
<rect x="184" y="531" width="4" height="30" fill="#ff0000"/>
<rect x="192" y="530" width="4" height="31" fill="#008000"/>
<rect x="200" y="526" width="4" height="35" fill="#008000"/>
<rect x="208" y="525" width="4" height="36" fill="#008000"/>
<rect x="216" y="527" width="4" height="34" fill="#ff0000"/>
<rect x="224" y="529" width="4" height="32" fill="#ff0000"/>
<rect x="232" y="533" width="4" height="28" fill="#ff0000"/>
<rect x="240" y="538" width="4" height="23" fill="#ff0000"/>
<rect x="248" y="541" width="4" height="20" fill="#ff0000"/>
<rect x="256" y="541" width="4" height="20" fill="#ff0000"/>
<rect x="264" y="540" width="4" height="21" fill="#008000"/>
<rect x="272" y="538" width="4" height="23" fill="#008000"/>
<rect x="280" y="533" width="4" height="28" fill="#008000"/>
<rect x="288" y="528" width="4" height="33" fill="#008000"/>
<rect x="296" y="525" width="4" height="36" fill="#008000"/>
<rect x="304" y="524" width="4" height="37" fill="#008000"/>
<rect x="312" y="520" width="4" height="41" fill="#008000"/>
<rect x="320" y="521" width="4" height="40" fill="#ff0000"/>
<rect x="328" y="519" width="4" height="42" fill="#008000"/>
<rect x="336" y="514" width="4" height="47" fill="#008000"/>
<rect x="344" y="511" width="4" height="50" fill="#008000"/>
<rect x="352" y="509" width="4" height="52" fill="#008000"/>
<rect x="360" y="507" width="4" height="54" fill="#008000"/>
<rect x="368" y="512" width="4" height="49" fill="#ff0000"/>
<rect x="376" y="516" width="4" height="45" fill="#ff0000"/>
<rect x="384" y="520" width="4" height="41" fill="#ff0000"/>
<rect x="392" y="525" width="4" height="36" fill="#ff0000"/>
<rect x="400" y="529" width="4" height="32" fill="#ff0000"/>
<rect x="408" y="531" width="4" height="30" fill="#ff0000"/>
<rect x="416" y="539" width="4" height="22" fill="#ff0000"/>
<rect x="424" y="545" width="4" height="16" fill="#ff0000"/>
<rect x="432" y="544" width="4" height="17" fill="#008000"/>
<rect x="440" y="543" width="4" height="18" fill="#008000"/>
<rect x="448" y="543" width="4" height="18" fill="#008000"/>
<rect x="456" y="539" width="4" height="22" fill="#008000"/>
<rect x="464" y="541" width="4" height="20" fill="#ff0000"/>
<rect x="472" y="549" width="4" height="12" fill="#ff0000"/>
<rect x="480" y="557" width="4" height="4" fill="#ff0000"/>
<rect x="488" y="557" width="4" height="4" fill="#008000"/>
<rect x="496" y="555" width="4" height="6" fill="#008000"/>
<rect x="504" y="551" width="4" height="10" fill="#008000"/>
<rect x="512" y="545" width="4" height="16" fill="#008000"/>
<rect x="520" y="540" width="4" height="21" fill="#008000"/>
<rect x="528" y="539" width="4" height="22" fill="#008000"/>
<rect x="536" y="536" width="4" height="25" fill="#008000"/>
<rect x="544" y="537" width="4" height="24" fill="#ff0000"/>
<rect x="552" y="537" width="4" height="24" fill="#ff0000"/>
<rect x="560" y="539" width="4" height="22" fill="#ff0000"/>
<rect x="568" y="541" width="4" height="20" fill="#ff0000"/>
<rect x="576" y="544" width="4" height="17" fill="#ff0000"/>
<rect x="584" y="545" width="4" height="16" fill="#ff0000"/>
<rect x="592" y="547" width="4" height="14" fill="#ff0000"/>
<rect x="600" y="549" width="4" height="12" fill="#ff0000"/>
<rect x="608" y="550" width="4" height="11" fill="#ff0000"/>
<rect x="616" y="552" width="4" height="9" fill="#ff0000"/>
<rect x="624" y="550" width="4" height="11" fill="#008000"/>
<rect x="632" y="545" width="4" height="16" fill="#008000"/>
<rect x="640" y="538" width="4" height="23" fill="#008000"/>
<rect x="648" y="532" width="4" height="29" fill="#008000"/>
<rect x="656" y="529" width="4" height="32" fill="#008000"/>
<rect x="664" y="526" width="4" height="35" fill="#008000"/>
<rect x="672" y="527" width="4" height="34" fill="#ff0000"/>
<rect x="680" y="528" width="4" height="33" fill="#ff0000"/>
<rect x="688" y="530" width="4" height="31" fill="#ff0000"/>
<rect x="696" y="526" width="4" height="35" fill="#008000"/>
<rect x="704" y="527" width="4" height="34" fill="#ff0000"/>
<rect x="712" y="530" width="4" height="31" fill="#ff0000"/>
<rect x="720" y="534" width="4" height="27" fill="#ff0000"/>
<rect x="728" y="537" width="4" height="24" fill="#ff0000"/>
<rect x="736" y="542" width="4" height="19" fill="#ff0000"/>
<rect x="744" y="546" width="4" height="15" fill="#ff0000"/>
<rect x="752" y="548" width="4" height="13" fill="#ff0000"/>
<rect x="760" y="549" width="4" height="12" fill="#ff0000"/>
<rect x="768" y="549" width="4" height="12" fill="#ff0000"/>
<rect x="776" y="547" width="4" height="14" fill="#008000"/>
<rect x="784" y="542" width="4" height="19" fill="#008000"/>
<rect x="792" y="535" width="4" height="26" fill="#008000"/>
<rect x="800" y="526" width="4" height="35" fill="#008000"/>
<rect x="808" y="518" width="4" height="43" fill="#008000"/>
<rect x="816" y="512" width="4" height="49" fill="#008000"/>
<rect x="824" y="507" width="4" height="54" fill="#008000"/>
<rect x="832" y="504" width="4" height="57" fill="#008000"/>
<rect x="840" y="505" width="4" height="56" fill="#ff0000"/>
<rect x="848" y="505" width="4" height="56" fill="#ff0000"/>
<rect x="856" y="505" width="4" height="56" fill="#008000"/>
<rect x="864" y="505" width="4" height="56" fill="#ff0000"/>
<rect x="872" y="508" width="4" height="53" fill="#ff0000"/>
<rect x="880" y="510" width="4" height="51" fill="#ff0000"/>
<rect x="888" y="511" width="4" height="50" fill="#ff0000"/>
<rect x="896" y="512" width="4" height="49" fill="#ff0000"/>
<rect x="904" y="513" width="4" height="48" fill="#ff0000"/>
<rect x="912" y="514" width="4" height="47" fill="#ff0000"/>
<rect x="920" y="516" width="4" height="45" fill="#ff0000"/>
<rect x="928" y="519" width="4" height="42" fill="#ff0000"/>
<rect x="936" y="522" width="4" height="39" fill="#ff0000"/>
<rect x="944" y="527" width="4" height="34" fill="#ff0000"/>
<rect x="952" y="535" width="4" height="26" fill="#ff0000"/>
<rect x="960" y="542" width="4" height="19" fill="#ff0000"/>
<rect x="968" y="547" width="4" height="14" fill="#ff0000"/>
<rect x="976" y="546" width="4" height="15" fill="#008000"/>
<rect x="984" y="543" width="4" height="18" fill="#008000"/>
<rect x="992" y="541" width="4" height="20" fill="#008000"/>
<rect x="1000" y="539" width="4" height="22" fill="#008000"/>
<rect x="1008" y="539" width="4" height="22" fill="#ff0000"/>
<rect x="1016" y="545" width="4" height="16" fill="#ff0000"/>
<rect x="1024" y="553" width="4" height="8" fill="#ff0000"/>
<rect x="1032" y="558" width="4" height="3" fill="#ff0000"/>
<rect x="1040" y="560" width="4" height="1" fill="#ff0000"/>
<rect x="1048" y="561" width="4" height="3" fill="#ff0000"/>
<rect x="1056" y="561" width="4" height="5" fill="#ff0000"/>
<rect x="1064" y="561" width="4" height="4" fill="#008000"/>
<rect x="1072" y="561" width="4" height="2" fill="#008000"/>
<rect x="1080" y="561" width="4" height="3" fill="#ff0000"/>
<rect x="1088" y="561" width="4" height="5" fill="#ff0000"/>
<rect x="1096" y="561" width="4" height="5" fill="#008000"/>
</g><g clip-path="url(#c2)">
<rect x="0" y="592" width="4" height="38" fill="#008000"/>
<rect x="8" y="592" width="4" height="38" fill="#008000"/>
<rect x="16" y="594" width="4" height="36" fill="#ff0000"/>
<rect x="24" y="610" width="4" height="20" fill="#ff0000"/>
<rect x="32" y="629" width="4" height="1" fill="#ff0000"/>
<rect x="40" y="630" width="4" height="7" fill="#ff0000"/>
<rect x="48" y="630" width="4" height="7" fill="#008000"/>
<rect x="56" y="630" width="4" height="3" fill="#008000"/>
<rect x="64" y="626" width="4" height="4" fill="#008000"/>
<rect x="72" y="624" width="4" height="6" fill="#008000"/>
<rect x="80" y="626" width="4" height="4" fill="#ff0000"/>
<rect x="88" y="630" width="4" height="3" fill="#ff0000"/>
<rect x="96" y="630" width="4" height="17" fill="#ff0000"/>
<rect x="104" y="630" width="4" height="30" fill="#ff0000"/>
<rect x="112" y="630" width="4" height="38" fill="#ff0000"/>
<rect x="120" y="630" width="4" height="38" fill="#008000"/>
<rect x="128" y="630" width="4" height="27" fill="#008000"/>
<rect x="136" y="630" width="4" height="10" fill="#008000"/>
<rect x="144" y="630" width="4" height="1" fill="#008000"/>
<rect x="152" y="629" width="4" height="1" fill="#008000"/>
<rect x="160" y="630" width="4" height="7" fill="#ff0000"/>
<rect x="168" y="630" width="4" height="18" fill="#ff0000"/>
<rect x="176" y="630" width="4" height="22" fill="#ff0000"/>
<rect x="184" y="630" width="4" height="18" fill="#008000"/>
<rect x="192" y="630" width="4" height="7" fill="#008000"/>
<rect x="200" y="622" width="4" height="8" fill="#008000"/>
<rect x="208" y="619" width="4" height="11" fill="#008000"/>
<rect x="216" y="626" width="4" height="4" fill="#ff0000"/>
<rect x="224" y="630" width="4" height="4" fill="#ff0000"/>
<rect x="232" y="630" width="4" height="14" fill="#ff0000"/>
<rect x="240" y="630" width="4" height="22" fill="#ff0000"/>
<rect x="248" y="630" width="4" height="20" fill="#008000"/>
<rect x="256" y="630" width="4" height="12" fill="#008000"/>
<rect x="264" y="630" width="4" height="3" fill="#008000"/>
<rect x="272" y="625" width="4" height="5" fill="#008000"/>
<rect x="280" y="614" width="4" height="16" fill="#008000"/>
<rect x="288" y="607" width="4" height="23" fill="#008000"/>
<rect x="296" y="609" width="4" height="21" fill="#ff0000"/>
<rect x="304" y="614" width="4" height="16" fill="#ff0000"/>
<rect x="312" y="613" width="4" height="17" fill="#008000"/>
<rect x="320" y="623" width="4" height="7" fill="#ff0000"/>
<rect x="328" y="622" width="4" height="8" fill="#008000"/>
<rect x="336" y="614" width="4" height="16" fill="#008000"/>
<rect x="344" y="613" width="4" height="17" fill="#008000"/>
<rect x="352" y="615" width="4" height="15" fill="#ff0000"/>
<rect x="360" y="616" width="4" height="14" fill="#ff0000"/>
<rect x="368" y="630" width="4" height="3" fill="#ff0000"/>
<rect x="376" y="630" width="4" height="13" fill="#ff0000"/>
<rect x="384" y="630" width="4" height="19" fill="#ff0000"/>
<rect x="392" y="630" width="4" height="24" fill="#ff0000"/>
<rect x="400" y="630" width="4" height="23" fill="#008000"/>
<rect x="408" y="630" width="4" height="20" fill="#008000"/>
<rect x="416" y="630" width="4" height="29" fill="#ff0000"/>
<rect x="424" y="630" width="4" height="29" fill="#ff0000"/>
<rect x="432" y="630" width="4" height="18" fill="#008000"/>
<rect x="440" y="630" width="4" height="6" fill="#008000"/>
<rect x="448" y="629" width="4" height="1" fill="#008000"/>
<rect x="456" y="620" width="4" height="10" fill="#008000"/>
<rect x="464" y="627" width="4" height="3" fill="#ff0000"/>
<rect x="472" y="630" width="4" height="16" fill="#ff0000"/>
<rect x="480" y="630" width="4" height="30" fill="#ff0000"/>
<rect x="488" y="630" width="4" height="22" fill="#008000"/>
<rect x="496" y="630" width="4" height="10" fill="#008000"/>
<rect x="504" y="623" width="4" height="7" fill="#008000"/>
<rect x="512" y="608" width="4" height="22" fill="#008000"/>
<rect x="520" y="604" width="4" height="26" fill="#008000"/>
<rect x="528" y="610" width="4" height="20" fill="#ff0000"/>
<rect x="536" y="613" width="4" height="17" fill="#ff0000"/>
<rect x="544" y="622" width="4" height="8" fill="#ff0000"/>
<rect x="552" y="629" width="4" height="1" fill="#ff0000"/>
<rect x="560" y="630" width="4" height="4" fill="#ff0000"/>
<rect x="568" y="630" width="4" height="8" fill="#ff0000"/>
<rect x="576" y="630" width="4" height="12" fill="#ff0000"/>
<rect x="584" y="630" width="4" height="10" fill="#008000"/>
<rect x="592" y="630" width="4" height="10" fill="#008000"/>
<rect x="600" y="630" width="4" height="10" fill="#008000"/>
<rect x="608" y="630" width="4" height="8" fill="#008000"/>
<rect x="616" y="630" width="4" height="8" fill="#ff0000"/>
<rect x="624" y="630" width="4" height="2" fill="#008000"/>
<rect x="632" y="619" width="4" height="11" fill="#008000"/>
<rect x="640" y="606" width="4" height="24" fill="#008000"/>
<rect x="648" y="598" width="4" height="32" fill="#008000"/>
<rect x="656" y="602" width="4" height="28" fill="#ff0000"/>
<rect x="664" y="608" width="4" height="22" fill="#ff0000"/>
<rect x="672" y="621" width="4" height="9" fill="#ff0000"/>
<rect x="680" y="629" width="4" height="1" fill="#ff0000"/>
<rect x="688" y="630" width="4" height="4" fill="#ff0000"/>
<rect x="696" y="626" width="4" height="4" fill="#008000"/>
<rect x="704" y="628" width="4" height="2" fill="#ff0000"/>
<rect x="712" y="630" width="4" height="5" fill="#ff0000"/>
<rect x="720" y="630" width="4" height="11" fill="#ff0000"/>
<rect x="728" y="630" width="4" height="17" fill="#ff0000"/>
<rect x="736" y="630" width="4" height="22" fill="#ff0000"/>
<rect x="744" y="630" width="4" height="22" fill="#ff0000"/>
<rect x="752" y="630" width="4" height="18" fill="#008000"/>
<rect x="760" y="630" width="4" height="12" fill="#008000"/>
<rect x="768" y="630" width="4" height="6" fill="#008000"/>
<rect x="776" y="627" width="4" height="3" fill="#008000"/>
<rect x="784" y="616" width="4" height="14" fill="#008000"/>
<rect x="792" y="605" width="4" height="25" fill="#008000"/>
<rect x="800" y="591" width="4" height="39" fill="#008000"/>
<rect x="808" y="586" width="4" height="44" fill="#008000"/>
<rect x="816" y="590" width="4" height="40" fill="#ff0000"/>
<rect x="824" y="596" width="4" height="34" fill="#ff0000"/>
<rect x="832" y="604" width="4" height="26" fill="#ff0000"/>
<rect x="840" y="617" width="4" height="13" fill="#ff0000"/>
<rect x="848" y="625" width="4" height="5" fill="#ff0000"/>
<rect x="856" y="628" width="4" height="2" fill="#ff0000"/>
<rect x="864" y="630" width="4" height="1" fill="#ff0000"/>
<rect x="872" y="630" width="4" height="7" fill="#ff0000"/>
<rect x="880" y="630" width="4" height="8" fill="#ff0000"/>
<rect x="888" y="630" width="4" height="8" fill="#008000"/>
<rect x="896" y="630" width="4" height="8" fill="#008000"/>
<rect x="904" y="630" width="4" height="7" fill="#008000"/>
<rect x="912" y="630" width="4" height="5" fill="#008000"/>
<rect x="920" y="630" width="4" height="7" fill="#ff0000"/>
<rect x="928" y="630" width="4" height="10" fill="#ff0000"/>
<rect x="936" y="630" width="4" height="14" fill="#ff0000"/>
<rect x="944" y="630" width="4" height="22" fill="#ff0000"/>
<rect x="952" y="630" width="4" height="31" fill="#ff0000"/>
<rect x="960" y="630" width="4" height="36" fill="#ff0000"/>
<rect x="968" y="630" width="4" height="34" fill="#008000"/>
<rect x="976" y="630" width="4" height="18" fill="#008000"/>
<rect x="984" y="630" width="4" height="1" fill="#008000"/>
<rect x="992" y="621" width="4" height="9" fill="#008000"/>
<rect x="1000" y="618" width="4" height="12" fill="#008000"/>
<rect x="1008" y="623" width="4" height="7" fill="#ff0000"/>
<rect x="1016" y="630" width="4" height="9" fill="#ff0000"/>
<rect x="1024" y="630" width="4" height="26" fill="#ff0000"/>
<rect x="1032" y="630" width="4" height="30" fill="#ff0000"/>
<rect x="1040" y="630" width="4" height="25" fill="#008000"/>
<rect x="1048" y="630" width="4" height="22" fill="#008000"/>
<rect x="1056" y="630" width="4" height="17" fill="#008000"/>
<rect x="1064" y="630" width="4" height="7" fill="#008000"/>
<rect x="1072" y="627" width="4" height="3" fill="#008000"/>
<rect x="1080" y="629" width="4" height="1" fill="#ff0000"/>
<rect x="1088" y="630" width="4" height="3" fill="#ff0000"/>
<rect x="1096" y="630" width="4" height="3" fill="#008000"/>
</g><g clip-path="url(#c3)">
<rect x="0" y="706" width="4" height="26" fill="#ff0000"/>
<rect x="8" y="707" width="4" height="25" fill="#ff0000"/>
<rect x="16" y="705" width="4" height="27" fill="#008000"/>
<rect x="24" y="700" width="4" height="32" fill="#008000"/>
<rect x="32" y="694" width="4" height="38" fill="#008000"/>
<rect x="40" y="694" width="4" height="38" fill="#008000"/>
<rect x="48" y="694" width="4" height="38" fill="#008000"/>
<rect x="56" y="694" width="4" height="38" fill="#ff0000"/>
<rect x="64" y="694" width="4" height="38" fill="#ff0000"/>
<rect x="72" y="694" width="4" height="38" fill="#ff0000"/>
<rect x="80" y="694" width="4" height="38" fill="#008000"/>
<rect x="88" y="694" width="4" height="38" fill="#008000"/>
<rect x="96" y="694" width="4" height="38" fill="#008000"/>
<rect x="104" y="688" width="4" height="44" fill="#008000"/>
<rect x="112" y="688" width="4" height="44" fill="#008000"/>
<rect x="120" y="689" width="4" height="43" fill="#ff0000"/>
<rect x="128" y="692" width="4" height="40" fill="#ff0000"/>
<rect x="136" y="696" width="4" height="36" fill="#ff0000"/>
<rect x="144" y="699" width="4" height="33" fill="#ff0000"/>
<rect x="152" y="703" width="4" height="29" fill="#ff0000"/>
<rect x="160" y="703" width="4" height="29" fill="#ff0000"/>
<rect x="168" y="701" width="4" height="31" fill="#008000"/>
<rect x="176" y="699" width="4" height="33" fill="#008000"/>
<rect x="184" y="699" width="4" height="33" fill="#008000"/>
<rect x="192" y="703" width="4" height="29" fill="#ff0000"/>
<rect x="200" y="707" width="4" height="25" fill="#ff0000"/>
<rect x="208" y="709" width="4" height="23" fill="#ff0000"/>
<rect x="216" y="709" width="4" height="23" fill="#008000"/>
<rect x="224" y="706" width="4" height="26" fill="#008000"/>
<rect x="232" y="705" width="4" height="27" fill="#008000"/>
<rect x="240" y="704" width="4" height="28" fill="#008000"/>
<rect x="248" y="705" width="4" height="27" fill="#ff0000"/>
<rect x="256" y="708" width="4" height="24" fill="#ff0000"/>
<rect x="264" y="709" width="4" height="23" fill="#ff0000"/>
<rect x="272" y="710" width="4" height="22" fill="#ff0000"/>
<rect x="280" y="711" width="4" height="21" fill="#ff0000"/>
<rect x="288" y="713" width="4" height="19" fill="#ff0000"/>
<rect x="296" y="713" width="4" height="19" fill="#ff0000"/>
<rect x="304" y="711" width="4" height="21" fill="#008000"/>
<rect x="312" y="710" width="4" height="22" fill="#008000"/>
<rect x="320" y="707" width="4" height="25" fill="#008000"/>
<rect x="328" y="705" width="4" height="27" fill="#008000"/>
<rect x="336" y="705" width="4" height="27" fill="#008000"/>
<rect x="344" y="705" width="4" height="27" fill="#ff0000"/>
<rect x="352" y="704" width="4" height="28" fill="#008000"/>
<rect x="360" y="704" width="4" height="28" fill="#008000"/>
<rect x="368" y="702" width="4" height="30" fill="#008000"/>
<rect x="376" y="700" width="4" height="32" fill="#008000"/>
<rect x="384" y="698" width="4" height="34" fill="#008000"/>
<rect x="392" y="698" width="4" height="34" fill="#008000"/>
<rect x="400" y="699" width="4" height="33" fill="#ff0000"/>
<rect x="408" y="703" width="4" height="29" fill="#ff0000"/>
<rect x="416" y="705" width="4" height="27" fill="#ff0000"/>
<rect x="424" y="707" width="4" height="25" fill="#ff0000"/>
<rect x="432" y="707" width="4" height="25" fill="#ff0000"/>
<rect x="440" y="709" width="4" height="23" fill="#ff0000"/>
<rect x="448" y="714" width="4" height="18" fill="#ff0000"/>
<rect x="456" y="719" width="4" height="13" fill="#ff0000"/>
<rect x="464" y="721" width="4" height="11" fill="#ff0000"/>
<rect x="472" y="717" width="4" height="15" fill="#008000"/>
<rect x="480" y="712" width="4" height="20" fill="#008000"/>
<rect x="488" y="713" width="4" height="19" fill="#ff0000"/>
<rect x="496" y="717" width="4" height="15" fill="#ff0000"/>
<rect x="504" y="721" width="4" height="11" fill="#ff0000"/>
<rect x="512" y="725" width="4" height="7" fill="#ff0000"/>
<rect x="520" y="726" width="4" height="6" fill="#ff0000"/>
<rect x="528" y="724" width="4" height="8" fill="#008000"/>
<rect x="536" y="721" width="4" height="11" fill="#008000"/>
<rect x="544" y="717" width="4" height="15" fill="#008000"/>
<rect x="552" y="716" width="4" height="16" fill="#008000"/>
<rect x="560" y="715" width="4" height="17" fill="#008000"/>
<rect x="568" y="714" width="4" height="18" fill="#008000"/>
<rect x="576" y="713" width="4" height="19" fill="#008000"/>
<rect x="584" y="713" width="4" height="19" fill="#008000"/>
<rect x="592" y="714" width="4" height="18" fill="#ff0000"/>
<rect x="600" y="716" width="4" height="16" fill="#ff0000"/>
<rect x="608" y="718" width="4" height="14" fill="#ff0000"/>
<rect x="616" y="718" width="4" height="14" fill="#ff0000"/>
<rect x="624" y="718" width="4" height="14" fill="#008000"/>
<rect x="632" y="719" width="4" height="13" fill="#ff0000"/>
<rect x="640" y="721" width="4" height="11" fill="#ff0000"/>
<rect x="648" y="723" width="4" height="9" fill="#ff0000"/>
<rect x="656" y="724" width="4" height="8" fill="#ff0000"/>
<rect x="664" y="721" width="4" height="11" fill="#008000"/>
<rect x="672" y="717" width="4" height="15" fill="#008000"/>
<rect x="680" y="713" width="4" height="19" fill="#008000"/>
<rect x="688" y="711" width="4" height="21" fill="#008000"/>
<rect x="696" y="714" width="4" height="18" fill="#ff0000"/>
<rect x="704" y="713" width="4" height="19" fill="#008000"/>
<rect x="712" y="713" width="4" height="19" fill="#008000"/>
<rect x="720" y="711" width="4" height="21" fill="#008000"/>
<rect x="728" y="711" width="4" height="21" fill="#008000"/>
<rect x="736" y="711" width="4" height="21" fill="#008000"/>
<rect x="744" y="712" width="4" height="20" fill="#ff0000"/>
<rect x="752" y="714" width="4" height="18" fill="#ff0000"/>
<rect x="760" y="717" width="4" height="15" fill="#ff0000"/>
<rect x="768" y="718" width="4" height="14" fill="#ff0000"/>
<rect x="776" y="719" width="4" height="13" fill="#ff0000"/>
<rect x="784" y="721" width="4" height="11" fill="#ff0000"/>
<rect x="792" y="722" width="4" height="10" fill="#ff0000"/>
<rect x="800" y="722" width="4" height="10" fill="#ff0000"/>
<rect x="808" y="721" width="4" height="11" fill="#008000"/>
<rect x="816" y="719" width="4" height="13" fill="#008000"/>
<rect x="824" y="716" width="4" height="16" fill="#008000"/>
<rect x="832" y="712" width="4" height="20" fill="#008000"/>
<rect x="840" y="706" width="4" height="26" fill="#008000"/>
<rect x="848" y="703" width="4" height="29" fill="#008000"/>
<rect x="856" y="701" width="4" height="31" fill="#008000"/>
<rect x="864" y="701" width="4" height="31" fill="#008000"/>
<rect x="872" y="699" width="4" height="33" fill="#008000"/>
<rect x="880" y="698" width="4" height="34" fill="#008000"/>
<rect x="888" y="698" width="4" height="34" fill="#ff0000"/>
<rect x="896" y="699" width="4" height="33" fill="#ff0000"/>
<rect x="904" y="699" width="4" height="33" fill="#ff0000"/>
<rect x="912" y="700" width="4" height="32" fill="#ff0000"/>
<rect x="920" y="700" width="4" height="32" fill="#ff0000"/>
<rect x="928" y="701" width="4" height="31" fill="#ff0000"/>
<rect x="936" y="701" width="4" height="31" fill="#ff0000"/>
<rect x="944" y="702" width="4" height="30" fill="#ff0000"/>
<rect x="952" y="703" width="4" height="29" fill="#ff0000"/>
<rect x="960" y="705" width="4" height="27" fill="#ff0000"/>
<rect x="968" y="705" width="4" height="27" fill="#ff0000"/>
<rect x="976" y="708" width="4" height="24" fill="#ff0000"/>
<rect x="984" y="712" width="4" height="20" fill="#ff0000"/>
<rect x="992" y="718" width="4" height="14" fill="#ff0000"/>
<rect x="1000" y="722" width="4" height="10" fill="#ff0000"/>
<rect x="1008" y="722" width="4" height="10" fill="#008000"/>
<rect x="1016" y="717" width="4" height="15" fill="#008000"/>
<rect x="1024" y="714" width="4" height="18" fill="#008000"/>
<rect x="1032" y="715" width="4" height="17" fill="#ff0000"/>
<rect x="1040" y="717" width="4" height="15" fill="#ff0000"/>
<rect x="1048" y="719" width="4" height="13" fill="#ff0000"/>
<rect x="1056" y="720" width="4" height="12" fill="#ff0000"/>
<rect x="1064" y="723" width="4" height="9" fill="#ff0000"/>
<rect x="1072" y="726" width="4" height="6" fill="#ff0000"/>
<rect x="1080" y="727" width="4" height="5" fill="#ff0000"/>
<rect x="1088" y="727" width="4" height="5" fill="#008000"/>
<rect x="1096" y="726" width="4" height="6" fill="#008000"/>
<rect x="1104" y="727" width="4" height="5" fill="#ff0000"/>
<rect x="1112" y="727" width="4" height="5" fill="#008000"/>
<rect x="1120" y="727" width="4" height="5" fill="#ff0000"/>
<rect x="1128" y="729" width="4" height="3" fill="#ff0000"/>
<rect x="1136" y="730" width="4" height="2" fill="#ff0000"/>
<rect x="0" y="732" width="4" height="20" fill="#008000"/>
<rect x="8" y="732" width="4" height="28" fill="#008000"/>
<rect x="16" y="732" width="4" height="35" fill="#008000"/>
<rect x="24" y="732" width="4" height="38" fill="#008000"/>
<rect x="32" y="732" width="4" height="35" fill="#ff0000"/>
<rect x="40" y="732" width="4" height="31" fill="#ff0000"/>
<rect x="48" y="732" width="4" height="30" fill="#ff0000"/>
<rect x="56" y="732" width="4" height="29" fill="#ff0000"/>
<rect x="64" y="732" width="4" height="29" fill="#ff0000"/>
<rect x="72" y="732" width="4" height="29" fill="#ff0000"/>
<rect x="80" y="732" width="4" height="29" fill="#008000"/>
<rect x="88" y="732" width="4" height="31" fill="#008000"/>
<rect x="96" y="732" width="4" height="30" fill="#ff0000"/>
<rect x="104" y="732" width="4" height="27" fill="#ff0000"/>
<rect x="112" y="732" width="4" height="24" fill="#ff0000"/>
<rect x="120" y="732" width="4" height="18" fill="#ff0000"/>
<rect x="128" y="732" width="4" height="14" fill="#ff0000"/>
<rect x="136" y="732" width="4" height="12" fill="#ff0000"/>
<rect x="144" y="732" width="4" height="12" fill="#008000"/>
<rect x="152" y="732" width="4" height="16" fill="#008000"/>
<rect x="160" y="732" width="4" height="19" fill="#008000"/>
<rect x="168" y="732" width="4" height="18" fill="#ff0000"/>
<rect x="176" y="732" width="4" height="13" fill="#ff0000"/>
<rect x="184" y="732" width="4" height="8" fill="#ff0000"/>
<rect x="192" y="732" width="4" height="7" fill="#ff0000"/>
<rect x="200" y="732" width="4" height="10" fill="#008000"/>
<rect x="208" y="732" width="4" height="14" fill="#008000"/>
<rect x="216" y="732" width="4" height="16" fill="#008000"/>
<rect x="224" y="732" width="4" height="16" fill="#008000"/>
<rect x="232" y="732" width="4" height="14" fill="#ff0000"/>
<rect x="240" y="732" width="4" height="11" fill="#ff0000"/>
<rect x="248" y="732" width="4" height="11" fill="#008000"/>
<rect x="256" y="732" width="4" height="10" fill="#ff0000"/>
<rect x="264" y="732" width="4" height="8" fill="#ff0000"/>
<rect x="272" y="732" width="4" height="7" fill="#ff0000"/>
<rect x="280" y="732" width="4" height="8" fill="#008000"/>
<rect x="288" y="732" width="4" height="12" fill="#008000"/>
<rect x="296" y="732" width="4" height="13" fill="#008000"/>
<rect x="304" y="732" width="4" height="17" fill="#008000"/>
<rect x="312" y="732" width="4" height="20" fill="#008000"/>
<rect x="320" y="732" width="4" height="18" fill="#ff0000"/>
<rect x="328" y="732" width="4" height="17" fill="#ff0000"/>
<rect x="336" y="732" width="4" height="20" fill="#008000"/>
<rect x="344" y="732" width="4" height="19" fill="#ff0000"/>
<rect x="352" y="732" width="4" height="21" fill="#008000"/>
<rect x="360" y="732" width="4" height="25" fill="#008000"/>
<rect x="368" y="732" width="4" height="25" fill="#ff0000"/>
<rect x="376" y="732" width="4" height="24" fill="#ff0000"/>
<rect x="384" y="732" width="4" height="22" fill="#ff0000"/>
<rect x="392" y="732" width="4" height="15" fill="#ff0000"/>
<rect x="400" y="732" width="4" height="13" fill="#ff0000"/>
<rect x="408" y="732" width="4" height="15" fill="#008000"/>
<rect x="416" y="732" width="4" height="12" fill="#ff0000"/>
<rect x="424" y="732" width="4" height="9" fill="#ff0000"/>
<rect x="432" y="732" width="4" height="4" fill="#ff0000"/>
<rect x="440" y="732" width="4" height="2" fill="#ff0000"/>
<rect x="448" y="732" width="4" height="1" fill="#ff0000"/>
<rect x="456" y="732" width="4" height="7" fill="#008000"/>
<rect x="464" y="732" width="4" height="13" fill="#008000"/>
<rect x="472" y="732" width="4" height="8" fill="#ff0000"/>
<rect x="480" y="732" width="4" height="3" fill="#ff0000"/>
<rect x="488" y="732" width="4" height="1" fill="#ff0000"/>
<rect x="496" y="732" width="4" height="3" fill="#008000"/>
<rect x="504" y="732" width="4" height="4" fill="#008000"/>
<rect x="512" y="732" width="4" height="1" fill="#ff0000"/>
<rect x="520" y="732" width="4" height="6" fill="#008000"/>
<rect x="528" y="732" width="4" height="10" fill="#008000"/>
<rect x="536" y="732" width="4" height="12" fill="#008000"/>
<rect x="544" y="732" width="4" height="12" fill="#008000"/>
<rect x="552" y="732" width="4" height="12" fill="#008000"/>
<rect x="560" y="732" width="4" height="14" fill="#008000"/>
<rect x="568" y="732" width="4" height="14" fill="#ff0000"/>
<rect x="576" y="732" width="4" height="11" fill="#ff0000"/>
<rect x="584" y="732" width="4" height="9" fill="#ff0000"/>
<rect x="592" y="732" width="4" height="7" fill="#ff0000"/>
<rect x="600" y="732" width="4" height="7" fill="#008000"/>
<rect x="608" y="732" width="4" height="8" fill="#008000"/>
<rect x="616" y="732" width="4" height="6" fill="#ff0000"/>
<rect x="624" y="732" width="4" height="2" fill="#ff0000"/>
<rect x="632" y="732" width="4" height="1" fill="#ff0000"/>
<rect x="640" y="732" width="4" height="1" fill="#008000"/>
<rect x="648" y="732" width="4" height="6" fill="#008000"/>
<rect x="656" y="732" width="4" height="13" fill="#008000"/>
<rect x="664" y="732" width="4" height="17" fill="#008000"/>
<rect x="672" y="732" width="4" height="17" fill="#008000"/>
<rect x="680" y="732" width="4" height="12" fill="#ff0000"/>
<rect x="688" y="732" width="4" height="12" fill="#008000"/>
<rect x="696" y="732" width="4" height="16" fill="#008000"/>
<rect x="704" y="732" width="4" height="15" fill="#ff0000"/>
<rect x="712" y="732" width="4" height="15" fill="#ff0000"/>
<rect x="720" y="732" width="4" height="15" fill="#008000"/>
<rect x="728" y="732" width="4" height="13" fill="#ff0000"/>
<rect x="736" y="732" width="4" height="8" fill="#ff0000"/>
<rect x="744" y="732" width="4" height="6" fill="#ff0000"/>
<rect x="752" y="732" width="4" height="6" fill="#ff0000"/>
<rect x="760" y="732" width="4" height="5" fill="#ff0000"/>
<rect x="768" y="732" width="4" height="3" fill="#ff0000"/>
<rect x="776" y="732" width="4" height="2" fill="#ff0000"/>
<rect x="784" y="732" width="4" height="2" fill="#008000"/>
<rect x="792" y="732" width="4" height="4" fill="#008000"/>
<rect x="800" y="732" width="4" height="8" fill="#008000"/>
<rect x="808" y="732" width="4" height="12" fill="#008000"/>
<rect x="816" y="732" width="4" height="17" fill="#008000"/>
<rect x="824" y="732" width="4" height="24" fill="#008000"/>
<rect x="832" y="732" width="4" height="27" fill="#008000"/>
<rect x="840" y="732" width="4" height="25" fill="#ff0000"/>
<rect x="848" y="732" width="4" height="26" fill="#008000"/>
<rect x="856" y="732" width="4" height="28" fill="#008000"/>
<rect x="864" y="732" width="4" height="28" fill="#ff0000"/>
<rect x="872" y="732" width="4" height="26" fill="#ff0000"/>
<rect x="880" y="732" width="4" height="24" fill="#ff0000"/>
<rect x="888" y="732" width="4" height="24" fill="#ff0000"/>
<rect x="896" y="732" width="4" height="22" fill="#ff0000"/>
<rect x="904" y="732" width="4" height="21" fill="#ff0000"/>
<rect x="912" y="732" width="4" height="21" fill="#008000"/>
<rect x="920" y="732" width="4" height="19" fill="#ff0000"/>
<rect x="928" y="732" width="4" height="18" fill="#ff0000"/>
<rect x="936" y="732" width="4" height="16" fill="#ff0000"/>
<rect x="944" y="732" width="4" height="15" fill="#ff0000"/>
<rect x="952" y="732" width="4" height="14" fill="#ff0000"/>
<rect x="960" y="732" width="4" height="11" fill="#ff0000"/>
<rect x="968" y="732" width="4" height="4" fill="#ff0000"/>
<rect x="976" y="732" width="4" height="2" fill="#ff0000"/>
<rect x="984" y="732" width="4" height="4" fill="#008000"/>
<rect x="992" y="732" width="4" height="1" fill="#ff0000"/>
<rect x="1000" y="732" width="4" height="7" fill="#008000"/>
<rect x="1008" y="732" width="4" height="11" fill="#008000"/>
<rect x="1016" y="732" width="4" height="7" fill="#ff0000"/>
<rect x="1024" y="732" width="4" height="3" fill="#ff0000"/>
<rect x="1032" y="732" width="4" height="4" fill="#008000"/>
<rect x="1040" y="732" width="4" height="3" fill="#ff0000"/>
<rect x="1048" y="732" width="4" height="1" fill="#ff0000"/>
<rect x="1056" y="732" width="4" height="4" fill="#008000"/>
<rect x="1064" y="732" width="4" height="2" fill="#ff0000"/>
<rect x="1072" y="732" width="4" height="1" fill="#ff0000"/>
<rect x="1080" y="732" width="4" height="1" fill="#008000"/>
<rect x="1088" y="732" width="4" height="1" fill="#ff0000"/>
<rect x="1096" y="732" width="4" height="1" fill="#008000"/>
<rect x="1104" y="732" width="4" height="1" fill="#ff0000"/>
<rect x="1112" y="732" width="4" height="3" fill="#008000"/>
<rect x="1120" y="732" width="4" height="3" fill="#ff0000"/>
</g>
<line x1="2" y1="732.5" x2="1226" y2="732.5" stroke="#e5e5e5" stroke-width="1" stroke-dasharray="3 3"/>
</g>
<g shape-rendering="crispEdges" fill="#000">
<rect x="2" y="2" width="1221" height="1"/>
<rect x="2" y="473" width="1221" height="1"/>
<rect x="2" y="2" width="1" height="472"/>
<rect x="1222" y="2" width="1" height="472"/>
<rect x="2" y="475" width="1221" height="1"/>
<rect x="2" y="575" width="1221" height="1"/>
<rect x="2" y="475" width="1" height="101"/>
<rect x="1222" y="475" width="1" height="101"/>
<rect x="2" y="577" width="1221" height="1"/>
<rect x="2" y="677" width="1221" height="1"/>
<rect x="2" y="577" width="1" height="101"/>
<rect x="1222" y="577" width="1" height="101"/>
<rect x="2" y="679" width="1221" height="1"/>
<rect x="2" y="779" width="1221" height="1"/>
<rect x="2" y="679" width="1" height="101"/>
<rect x="1222" y="679" width="1" height="101"/>
<rect x="1223" y="25" width="4" height="1"/>
<rect x="1223" y="57" width="4" height="1"/>
<rect x="1223" y="89" width="4" height="1"/>
<rect x="1223" y="121" width="4" height="1"/>
<rect x="1223" y="153" width="4" height="1"/>
<rect x="1223" y="185" width="4" height="1"/>
<rect x="1223" y="217" width="4" height="1"/>
<rect x="1223" y="249" width="4" height="1"/>
<rect x="1223" y="281" width="4" height="1"/>
<rect x="1223" y="313" width="4" height="1"/>
<rect x="1223" y="345" width="4" height="1"/>
<rect x="1223" y="377" width="4" height="1"/>
<rect x="1223" y="409" width="4" height="1"/>
<rect x="1223" y="441" width="4" height="1"/>
<rect x="1223" y="476" width="4" height="1"/>
<rect x="1223" y="574" width="4" height="1"/>
<rect x="1223" y="578" width="4" height="1"/>
<rect x="1223" y="676" width="4" height="1"/>
<rect x="1223" y="680" width="4" height="1"/>
<rect x="1223" y="778" width="4" height="1"/>
<rect x="2" y="779" width="1" height="5"/>
<rect x="66" y="779" width="1" height="5"/>
<rect x="130" y="779" width="1" height="5"/>
<rect x="194" y="779" width="1" height="5"/>
<rect x="258" y="779" width="1" height="5"/>
<rect x="322" y="779" width="1" height="5"/>
<rect x="386" y="779" width="1" height="5"/>
<rect x="450" y="779" width="1" height="5"/>
<rect x="514" y="779" width="1" height="5"/>
<rect x="578" y="779" width="1" height="5"/>
<rect x="642" y="779" width="1" height="5"/>
<rect x="706" y="779" width="1" height="5"/>
<rect x="770" y="779" width="1" height="5"/>
<rect x="834" y="779" width="1" height="5"/>
<rect x="898" y="779" width="1" height="5"/>
<rect x="962" y="779" width="1" height="5"/>
<rect x="1026" y="779" width="1" height="5"/>
<rect x="1090" y="779" width="1" height="5"/>
</g>
<text transform="translate(1228,29) scale(0.92,1)">25505.50</text>
<text transform="translate(1228,61) scale(0.92,1)">25456.65</text>
<text transform="translate(1228,93) scale(0.92,1)">25407.80</text>
<text transform="translate(1228,125) scale(0.92,1)">25358.95</text>
<text transform="translate(1228,157) scale(0.92,1)">25310.10</text>
<text transform="translate(1228,189) scale(0.92,1)">25261.25</text>
<text transform="translate(1228,221) scale(0.92,1)">25212.40</text>
<text transform="translate(1228,253) scale(0.92,1)">25163.55</text>
<text transform="translate(1228,285) scale(0.92,1)">25114.70</text>
<text transform="translate(1228,317) scale(0.92,1)">25065.85</text>
<text transform="translate(1228,349) scale(0.92,1)">25017.00</text>
<text transform="translate(1228,381) scale(0.92,1)">24968.15</text>
<text transform="translate(1228,413) scale(0.92,1)">24919.30</text>
<text transform="translate(1228,445) scale(0.92,1)">24870.45</text>
<rect x="1225" y="79" width="44" height="11" fill="#cc0000" shape-rendering="crispEdges"/>
<text transform="translate(1228,88) scale(0.92,1)" style="fill:#fff;stroke:#fff">25415.82</text>
<text transform="translate(1228,484) scale(0.92,1)">217.339</text>
<text transform="translate(1228,564) scale(0.92,1)">0.000</text>
<text transform="translate(1228,573) scale(0.92,1)">-35.171</text>
<text transform="translate(1228,586) scale(0.92,1)">48.4248</text>
<text transform="translate(1228,633) scale(0.92,1)">0.0000</text>
<text transform="translate(1228,675) scale(0.92,1)">-43.4777</text>
<text transform="translate(1228,688) scale(0.92,1)">109.354</text>
<text transform="translate(1228,735) scale(0.92,1)">0.000</text>
<text transform="translate(1228,777) scale(0.92,1)">-98.224</text>
<rect x="4" y="478" width="70" height="12" fill="#fff"/>
<text transform="translate(6,488) scale(0.922206,1)">AOcust -12.919</text>
<rect x="4" y="580" width="69" height="12" fill="#fff"/>
<text transform="translate(6,590) scale(0.915269,1)">ACcust -3.1823</text>
<rect x="4" y="682" width="102.3" height="12" fill="#fff"/>
<text transform="translate(6,692) scale(0.922774,1)">GatorCust 2.978 -7.159</text>
<text transform="translate(2,792) scale(0.92,1)">5 Jan 2026</text>
<text transform="translate(65.5,792) scale(0.92,1)">6 Jan 06:00</text>
<text transform="translate(129.5,792) scale(0.92,1)">6 Jan 14:00</text>
<text transform="translate(193.5,792) scale(0.92,1)">6 Jan 22:00</text>
<text transform="translate(257.5,792) scale(0.92,1)">7 Jan 09:00</text>
<text transform="translate(321.5,792) scale(0.92,1)">7 Jan 17:00</text>
<text transform="translate(385.5,792) scale(0.92,1)">8 Jan 04:00</text>
<text transform="translate(449.5,792) scale(0.92,1)">8 Jan 12:00</text>
<text transform="translate(513.5,792) scale(0.92,1)">8 Jan 20:00</text>
<text transform="translate(577.5,792) scale(0.92,1)">9 Jan 07:00</text>
<text transform="translate(641.5,792) scale(0.92,1)">9 Jan 15:00</text>
<text transform="translate(705.5,792) scale(0.92,1)">12 Jan 02:00</text>
<text transform="translate(769.5,792) scale(0.92,1)">12 Jan 10:00</text>
<text transform="translate(833.5,792) scale(0.92,1)">12 Jan 18:00</text>
<text transform="translate(897.5,792) scale(0.92,1)">13 Jan 05:00</text>
<text transform="translate(961.5,792) scale(0.92,1)">13 Jan 13:00</text>
<text transform="translate(1025.5,792) scale(0.92,1)">13 Jan 21:00</text>
<text transform="translate(1089.5,792) scale(0.92,1)">14 Jan 08:00</text>
</svg></body></html>
